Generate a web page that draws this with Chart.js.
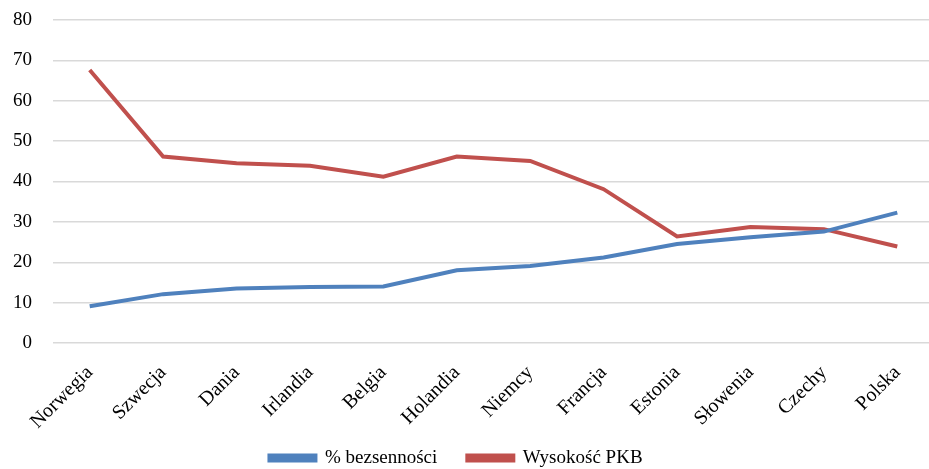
<!DOCTYPE html>
<html>
<head>
<meta charset="utf-8">
<script src="https://cdn.jsdelivr.net/npm/chart.js@4/dist/chart.umd.min.js"></script>
<style>
  html, body { margin: 0; padding: 0; background: #fff; overflow: hidden; }
  #wrap { position: relative; width: 935px; height: 469px; }
</style>
</head>
<body>
<div id="wrap"><canvas id="c"></canvas></div>
<script>
const countries = ['Norwegia', 'Szwecja', 'Dania', 'Irlandia', 'Belgia', 'Holandia', 'Niemcy', 'Francja', 'Estonia', 'Słowenia', 'Czechy', 'Polska'];
const insomniaPct = [9.1, 12.1, 13.5, 13.9, 14.0, 18.0, 19.1, 21.2, 24.5, 26.2, 27.6, 32.3];
const gdpLevel = [67.6, 46.2, 44.5, 43.9, 41.2, 46.2, 45.1, 38.1, 26.4, 28.7, 28.2, 23.9];
const yTicks = [0, 10, 20, 30, 40, 50, 60, 70, 80];

const serif = "'Liberation Serif', 'DejaVu Serif', serif";

// Nudge the bottom legend up and slightly left after the layout pass.
const legendNudge = {
  id: 'legendNudge',
  afterLayout(chart) {
    const lg = chart.legend;
    if (!lg) return;
    lg.top -= 13.5; lg.bottom -= 13.5;
    lg.left -= 11; lg.right -= 11;
  }
};

new Chart(document.getElementById('c'), {
  type: 'line',
  data: {
    labels: countries,
    datasets: [
      {
        label: '% bezsenności',
        data: insomniaPct,
        borderColor: '#4F81BD',
        backgroundColor: '#4F81BD',
        borderWidth: 4,
        pointRadius: 0,
        tension: 0
      },
      {
        label: 'Wysokość PKB',
        data: gdpLevel,
        borderColor: '#C0504D',
        backgroundColor: '#C0504D',
        borderWidth: 4,
        pointRadius: 0,
        tension: 0
      }
    ]
  },
  plugins: [legendNudge],
  options: {
    responsive: true,
    maintainAspectRatio: false,
    animation: false,
    layout: { padding: { top: 20, right: 1, left: 0, bottom: -22 } },
    plugins: {
      tooltip: { enabled: false },
      legend: {
        position: 'bottom',
        labels: {
          boxWidth: 46,
          boxHeight: 5,
          padding: 30,
          color: '#000',
          font: { family: serif, size: 19 }
        }
      }
    },
    scales: {
      x: {
        offset: true,
        grid: { display: false },
        border: { display: false },
        afterFit: axis => { axis.height = 89; },
        ticks: {
          minRotation: 45,
          maxRotation: 45,
          color: '#000',
          padding: 10,
          font: { family: serif, size: 20 }
        }
      },
      y: {
        min: 0,
        max: 80,
        afterBuildTicks: axis => { axis.ticks = yTicks.map(v => ({ value: v })); },
        afterFit: axis => { axis.width = 53; axis.paddingTop = 0; },
        grid: { color: '#d9d9d9', lineWidth: 1.5, drawTicks: false },
        border: { display: false },
        ticks: {
          color: '#000',
          padding: 21,
          font: { family: serif, size: 19 }
        }
      }
    }
  }
});
</script>
</body>
</html>
